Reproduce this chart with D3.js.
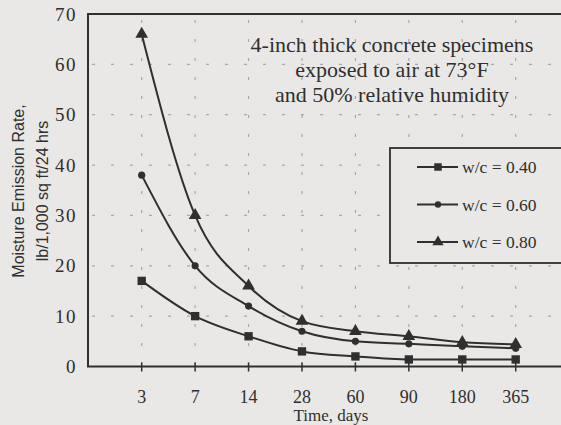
<!DOCTYPE html>
<html><head><meta charset="utf-8">
<script src="https://cdn.jsdelivr.net/npm/d3@7"></script>
<style>html,body{margin:0;padding:0;background:#eae8e6;overflow:hidden}
.serif{font-family:"Liberation Serif","Times New Roman","DejaVu Serif",serif}
.sans{font-family:"Liberation Sans",Arial,"DejaVu Sans",sans-serif}</style>
</head><body>
<script>
const categories = ["3","7","14","28","60","90","180","365"];
const wc040 = [17, 10, 6, 3, 2, 1.4, 1.4, 1.4];
const wc060 = [38, 20, 12, 7, 5, 4.5, 4, 3.6];
const wc080 = [66, 30, 16, 9, 7, 6, 4.8, 4.4];
const seriesNames = ["w/c = 0.40", "w/c = 0.60", "w/c = 0.80"];
const yTicks = [0,10,20,30,40,50,60,70];
const gridY = [10,20,30,40,50,60];
const noteLines = ["4-inch thick concrete specimens","exposed to air at 73°F","and 50% relative humidity"];

(function(){
const W = 561, H = 425;
const ink = "#2f2f2f";
const svg = d3.select("body").append("svg").attr("width", W).attr("height", H)
  .style("background", "#eae8e6");

const pL = 88, pT = 14, pB = 366.5, pR = 600;
const x = d3.scalePoint().domain(categories).range([141.7, 515.7]);
const y = d3.scaleLinear().domain([0, 70]).range([pB, pT]);

// grid
const grid = svg.append("g").attr("stroke", "#aaa8a6").attr("stroke-width", 1.2)
  .attr("stroke-dasharray", "3,16");
grid.selectAll("line.h").data(gridY).join("line").attr("class","h")
  .attr("x1", pL + 4).attr("x2", pR).attr("y1", d => y(d)).attr("y2", d => y(d));
grid.selectAll("line.v").data(categories).join("line").attr("class","v")
  .attr("x1", d => x(d)).attr("x2", d => x(d)).attr("y1", pT + 6).attr("y2", pB);

// frame
svg.append("path").attr("d", `M${pR},${pT}H${pL}V${pB}H${pR}`)
  .attr("fill", "none").attr("stroke", ink).attr("stroke-width", 2);

// x ticks
svg.append("g").selectAll("line").data(categories).join("line")
  .attr("x1", d => x(d)).attr("x2", d => x(d)).attr("y1", pB - 4).attr("y2", pB + 5)
  .attr("stroke", ink).attr("stroke-width", 1.5);

// x tick labels
svg.append("g").selectAll("text").data(categories).join("text")
  .attr("class", "serif")
  .attr("x", d => x(d)).attr("y", 403).attr("text-anchor", "middle")
  .attr("font-size", 18).attr("fill", ink)
  .text(d => d);

// y tick labels
svg.append("g").selectAll("text").data(yTicks).join("text")
  .attr("class", "serif")
  .attr("x", 77).attr("y", d => y(d) + 6.5).attr("text-anchor", "end")
  .attr("font-size", 19).attr("letter-spacing", 1.5)
  .attr("fill", ink).text(d => d);

// axis titles
svg.append("text").attr("class", "serif").attr("x", 331).attr("y", 421).attr("text-anchor", "middle")
  .attr("font-size", 17).attr("fill", ink)
  .text("Time, days");
const yt = svg.append("text").attr("class", "sans").attr("transform", "translate(0,191) rotate(-90)")
  .attr("text-anchor", "middle")
  .attr("font-size", 16).attr("fill", ink);
yt.append("tspan").attr("x", 0).attr("y", 24).text("Moisture Emission Rate,");
yt.append("tspan").attr("x", 0).attr("y", 48).text("lb/1,000 sq ft/24 hrs");

// note
svg.append("g").selectAll("text").data(noteLines).join("text")
  .attr("class", "serif")
  .attr("x", 392).attr("y", (d, i) => 51.5 + i * 25).attr("text-anchor", "middle")
  .attr("font-size", 22).attr("fill", ink)
  .text(d => d);

// series
const series = [wc040, wc060, wc080];
const symbols = [d3.symbolSquare, d3.symbolCircle, d3.symbolTriangle];
const symSizes = [70, 40, 70];
const line = d3.line().x((d, i) => x(categories[i])).y(d => y(d)).curve(d3.curveMonotoneX);
series.forEach((s, k) => {
  svg.append("path").attr("d", line(s)).attr("fill", "none").attr("stroke", ink).attr("stroke-width", 2);
  svg.append("g").selectAll("path").data(s).join("path")
    .attr("transform", (d, i) => `translate(${x(categories[i])},${y(d)})`)
    .attr("d", d3.symbol(symbols[k], symSizes[k])).attr("fill", ink);
});

// legend
const lg = svg.append("g");
lg.append("rect").attr("x", 390).attr("y", 148).attr("width", 220).attr("height", 115)
  .attr("fill", "#eae8e6").attr("stroke", ink).attr("stroke-width", 1.8);
seriesNames.forEach((n, k) => {
  const yy = 167 + k * 37.5;
  lg.append("line").attr("x1", 417).attr("x2", 458).attr("y1", yy).attr("y2", yy)
    .attr("stroke", ink).attr("stroke-width", 2);
  lg.append("path").attr("transform", `translate(438,${yy})`)
    .attr("d", d3.symbol(symbols[k], symSizes[k] * 0.8)).attr("fill", ink);
  lg.append("text").attr("class", "serif").attr("x", 462).attr("y", yy + 6)
    .attr("font-size", 17.5).attr("fill", ink).text(n);
});
})();
</script>
</body></html>
